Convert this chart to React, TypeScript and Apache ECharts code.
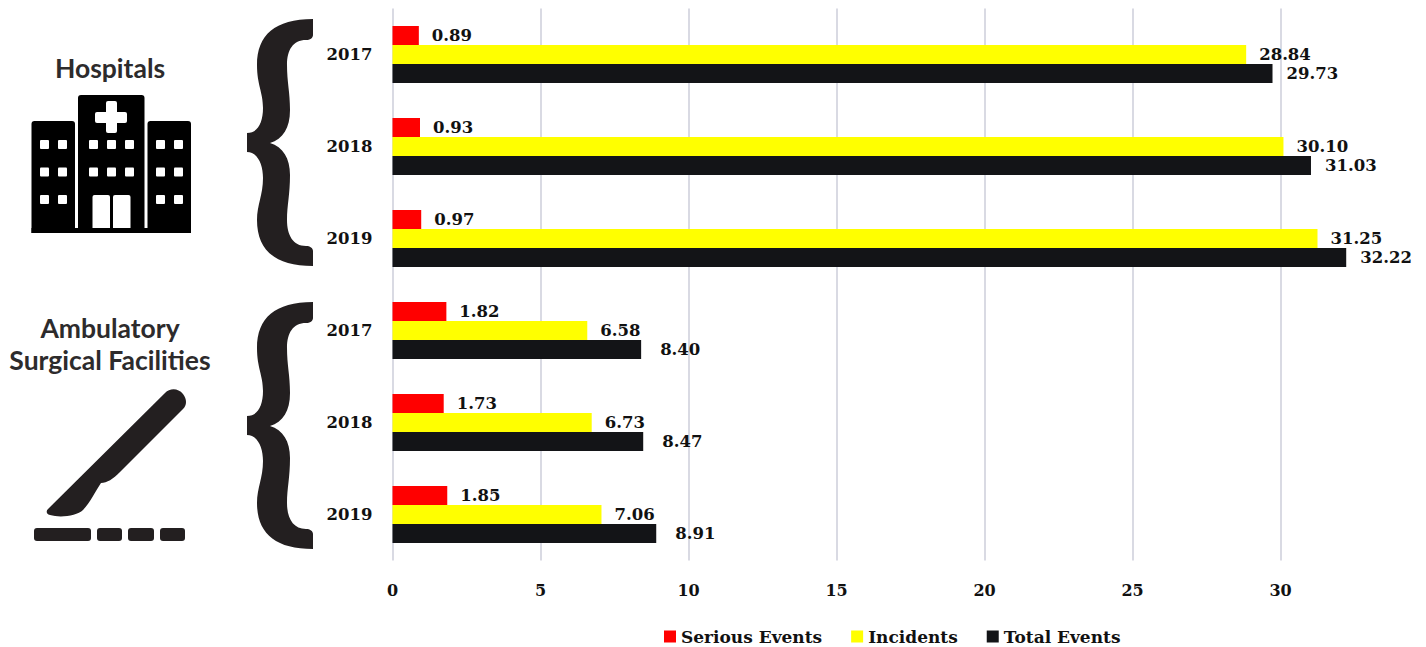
import React, { useEffect, useRef } from "react";
import * as echarts from "echarts";

const years = ["2017", "2018", "2019", "2017", "2018", "2019"];
const seriousEvents = [0.89, 0.93, 0.97, 1.82, 1.73, 1.85];
const incidents = [28.84, 30.1, 31.25, 6.58, 6.73, 7.06];
const totalEvents = [29.73, 31.03, 32.22, 8.4, 8.47, 8.91];
const axisTicks = { min: 0, max: 35, interval: 5 };

const SERIF = "'DejaVu Serif', serif";
const INK = "#231f20";

const BRACE =
  "M313 19 C275 19 257 35 257 65 C257 85 263 92 263 108 C263 122 258 133 247 133 L247 152 C258 152 263 165 263 178 C263 195 257 205 257 220 C257 250 275 266 313 266 L313 251 C313 248 310 246 306 246 C293 246 287 235 287 220 C287 205 290 195 290 175 C290 158 283 147 270 143 C283 139 290 128 290 110 C290 92 287 82 287 65 C287 50 293 40 306 40 C310 40 313 38 313 35 Z";
const SCALPEL =
  "M165 393 C170 388 178 388 183 394 C187 399 187 405 183 409 L120 472 C113 479 107 483 101 483 C96 490 90 503 83 510 C77 516 60 518 50 515 C46 514 46 511 48 509 Z";
echarts.graphic.registerShape("brace", echarts.graphic.extendPath(BRACE, {}) as any);
echarts.graphic.registerShape("scalpel", echarts.graphic.extendPath(SCALPEL, {}) as any);

const box = (x: number, y: number, w: number, h: number, fill: string, r: number | number[] = 0) => ({
  type: "rect",
  shape: { x, y, width: w, height: h, r },
  style: { fill },
});

const caption = (text: string, y: number) => ({
  type: "text",
  x: 110,
  y,
  style: {
    text,
    fill: "#2d2b2c",
    font: "700 26.5px Lato, sans-serif",
    align: "center",
    verticalAlign: "middle",
  },
});

// Hospital pictogram: three blocks, a cross, windows and a double door.
function hospitalIcon() {
  const parts: any[] = [
    box(31.5, 121, 43.5, 112, "#000", [3, 3, 0, 0]),
    box(78, 95, 66.5, 138, "#000", [3, 3, 0, 0]),
    box(147.5, 121, 43.5, 112, "#000", [3, 3, 0, 0]),
    box(31.5, 228, 159.5, 5, "#000"),
    box(95, 112, 32, 11, "#fff", 2),
    box(106, 101, 11, 32, "#fff", 2),
    box(92.5, 195, 17.5, 33, "#fff", [2, 2, 0, 0]),
    box(113, 195, 17.5, 33, "#fff", [2, 2, 0, 0]),
  ];
  for (const x of [40, 58, 156, 174]) {
    for (const y of [140, 167.5, 195]) parts.push(box(x, y, 9, 9, "#fff", 1));
  }
  for (const x of [89, 107, 125]) {
    for (const y of [140, 167.5]) parts.push(box(x, y, 9, 9, "#fff", 1));
  }
  return parts;
}

// Surgical pictogram: a scalpel over a dashed incision line.
function scalpelIcon() {
  return [
    { type: "scalpel", x: 0, y: 0, style: { fill: INK } },
    box(34, 528, 57, 13, INK, 3),
    box(97, 528, 25, 13, INK, 3),
    box(128, 528, 26, 13, INK, 3),
    box(160, 528, 25, 13, INK, 3),
  ];
}

const valueLabel = (distance: number) => ({
  show: true,
  position: "right",
  distance,
  color: "#111",
  fontFamily: SERIF,
  fontWeight: 700,
  fontSize: 16.5,
  formatter: (p: any) => Number(p.value).toFixed(2),
});

export default function App() {
  const ref = useRef<HTMLDivElement>(null);

  useEffect(() => {
    document.body.style.margin = "0";
    document.body.style.overflow = "hidden";
    const chart = echarts.init(ref.current!, undefined, { renderer: "svg" });
    const barBase = { type: "bar", barWidth: 19, barGap: 0 };
    chart.setOption({
      animation: false,
      backgroundColor: "#fff",
      // The 35 gridline sits just past the right edge of the canvas.
      grid: { left: 392.5, top: 8.5, width: 1036, height: 552, outerBoundsMode: "none" },
      legend: {
        left: 664,
        top: 628,
        padding: 0,
        itemWidth: 12,
        itemHeight: 12,
        itemGap: 29,
        icon: "rect",
        textStyle: { fontFamily: SERIF, fontWeight: 700, fontSize: 17, color: "#111" },
      },
      xAxis: {
        type: "value",
        ...axisTicks,
        axisLine: { show: false },
        axisTick: { show: false },
        splitLine: { show: true, lineStyle: { color: "#d9dae3", width: 2 } },
        axisLabel: {
          margin: 22,
          color: "#111",
          fontFamily: SERIF,
          fontWeight: 700,
          fontSize: 16,
          showMaxLabel: false,
        },
      },
      yAxis: {
        type: "category",
        inverse: true,
        data: years,
        axisLine: { show: false },
        axisTick: { show: false },
        axisLabel: {
          margin: 20,
          color: "#111",
          fontFamily: SERIF,
          fontWeight: 700,
          fontSize: 16.5,
          padding: [0, 0, 4, 0],
        },
      },
      series: [
        { ...barBase, name: "Serious Events", data: seriousEvents, itemStyle: { color: "#ff0000" }, label: valueLabel(13) },
        { ...barBase, name: "Incidents", data: incidents, itemStyle: { color: "#ffff00" }, label: valueLabel(13) },
        {
          ...barBase,
          name: "Total Events",
          itemStyle: { color: "#131417" },
          data: totalEvents.map((value, i) => ({ value, label: valueLabel(i < 3 ? 14 : 19) })),
        },
      ],
      graphic: [
        caption("Hospitals", 68),
        caption("Ambulatory", 328),
        caption("Surgical Facilities", 360),
        ...hospitalIcon(),
        ...scalpelIcon(),
        { type: "brace", x: 0, y: 0, style: { fill: INK } },
        { type: "brace", x: 0, y: 283, style: { fill: INK } },
      ],
    });
    return () => chart.dispose();
  }, []);

  return <div ref={ref} style={{ position: "absolute", left: 0, top: 0, width: 1426, height: 647 }} />;
}
